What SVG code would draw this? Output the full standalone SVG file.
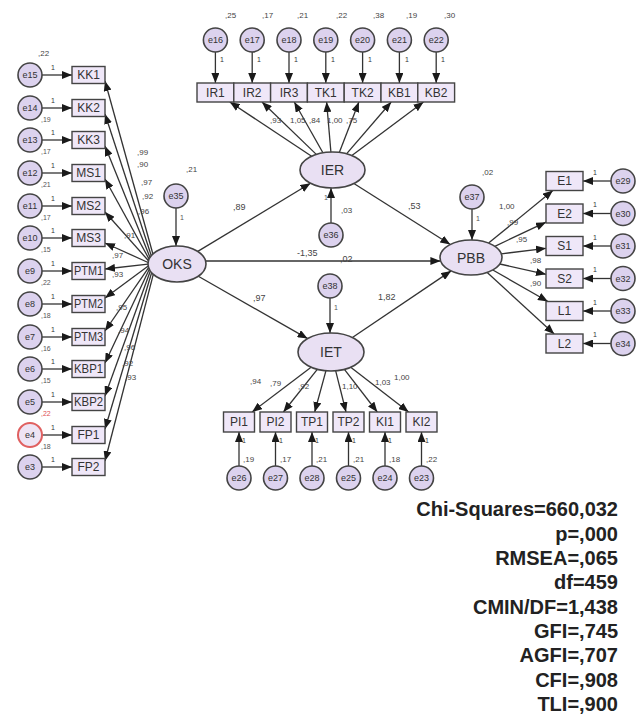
<svg xmlns="http://www.w3.org/2000/svg" width="638" height="716" viewBox="0 0 638 716">
<defs>
<marker id="ah" viewBox="0 0 10 8" refX="10" refY="4" markerWidth="10" markerHeight="8" markerUnits="userSpaceOnUse" orient="auto"><path d="M0,0 L10,4 L0,8 z" fill="#1a1a1a"/></marker>
<style>
.box{fill:#efe7f8;stroke:#444;stroke-width:1.4}
.lat{fill:#e9e0f3;stroke:#444;stroke-width:1.6}
.err{fill:#dcd2ee;stroke:#444;stroke-width:1.6}
.red{fill:#eee4f4;stroke:#e06060;stroke-width:2}
.c line{stroke:#333;stroke-width:1.3;marker-end:url(#ah)}
text{font-family:"Liberation Sans",Arial,sans-serif;fill:#333}
.el{font-size:9px;text-anchor:middle;dominant-baseline:central}
.bl{font-size:12px;text-anchor:middle;dominant-baseline:central}
.ll{font-size:14px;text-anchor:middle;dominant-baseline:central}
.sm{font-size:8px;fill:#444}
.xs{font-size:7px;fill:#555}
.fit{font-size:20px;font-weight:bold;text-anchor:end;fill:#222}
</style>
</defs>
<rect width="638" height="716" fill="#fff"/>

<g class="c" id="connectors">
<!-- left errors to indicators -->
<line x1="42" y1="75" x2="72" y2="75"/>
<line x1="42" y1="108" x2="72" y2="108"/>
<line x1="42" y1="140" x2="72" y2="140"/>
<line x1="42" y1="173" x2="72" y2="173"/>
<line x1="42" y1="206" x2="72" y2="206"/>
<line x1="42" y1="238" x2="72" y2="238"/>
<line x1="42" y1="271" x2="72" y2="271"/>
<line x1="42" y1="304" x2="72" y2="304"/>
<line x1="42" y1="337" x2="72" y2="337"/>
<line x1="42" y1="369" x2="72" y2="369"/>
<line x1="42" y1="402" x2="72" y2="402"/>
<line x1="42" y1="435" x2="72" y2="435"/>
<line x1="42" y1="467" x2="72" y2="467"/>
<!-- OKS to left indicators -->
<line x1="152.9" y1="254" x2="105" y2="81"/>
<line x1="151.3" y1="255.7" x2="105" y2="114"/>
<line x1="150" y1="257.4" x2="105" y2="146"/>
<line x1="149.1" y1="259.1" x2="105" y2="179"/>
<line x1="148.5" y1="260.8" x2="105" y2="212"/>
<line x1="148.1" y1="262.5" x2="105" y2="243"/>
<line x1="148" y1="264.2" x2="105" y2="269"/>
<line x1="148.2" y1="265.9" x2="105" y2="298"/>
<line x1="148.6" y1="267.6" x2="105" y2="331"/>
<line x1="149.3" y1="269.3" x2="105" y2="363"/>
<line x1="150.3" y1="271" x2="105" y2="396"/>
<line x1="151.6" y1="272.7" x2="105" y2="429"/>
<line x1="153.3" y1="274.4" x2="105" y2="461"/>
<!-- top errors to indicators -->
<line x1="215.4" y1="52" x2="215.4" y2="83"/>
<line x1="252.2" y1="52" x2="252.2" y2="83"/>
<line x1="289" y1="52" x2="289" y2="83"/>
<line x1="325.8" y1="52" x2="325.8" y2="83"/>
<line x1="362.6" y1="52" x2="362.6" y2="83"/>
<line x1="399.4" y1="52" x2="399.4" y2="83"/>
<line x1="436.2" y1="52" x2="436.2" y2="83"/>
<!-- IER to top indicators -->
<line x1="311.6" y1="156.2" x2="229.8" y2="102"/>
<line x1="316.3" y1="154.4" x2="262" y2="102"/>
<line x1="322.9" y1="152.8" x2="294.3" y2="102"/>
<line x1="330.9" y1="152" x2="326.6" y2="102"/>
<line x1="339.3" y1="152.4" x2="358.9" y2="102"/>
<line x1="346.5" y1="153.8" x2="391.2" y2="102"/>
<line x1="351.9" y1="155.5" x2="423.5" y2="102"/>
<!-- IET to bottom indicators -->
<line x1="311.1" y1="367.2" x2="252.1" y2="412"/>
<line x1="317.3" y1="369.3" x2="283.4" y2="412"/>
<line x1="325.9" y1="370.8" x2="314.7" y2="412"/>
<line x1="335.7" y1="370.8" x2="346" y2="412"/>
<line x1="344.4" y1="369.4" x2="377.3" y2="412"/>
<line x1="350.7" y1="367.2" x2="408.6" y2="412"/>
<!-- bottom errors to indicators -->
<line x1="239" y1="466" x2="239" y2="432"/>
<line x1="275.5" y1="466" x2="275.5" y2="432"/>
<line x1="312" y1="466" x2="312" y2="432"/>
<line x1="348.5" y1="466" x2="348.5" y2="432"/>
<line x1="385" y1="466" x2="385" y2="432"/>
<line x1="421.5" y1="466" x2="421.5" y2="432"/>
<!-- PBB to right indicators -->
<line x1="488.6" y1="243.1" x2="552.9" y2="190.5"/>
<line x1="494.8" y1="246.3" x2="546" y2="222.2"/>
<line x1="501.3" y1="253.8" x2="546" y2="248.3"/>
<line x1="499.8" y1="264" x2="546" y2="274.3"/>
<line x1="492.8" y1="270" x2="547.9" y2="301.5"/>
<line x1="487.2" y1="272.4" x2="554.2" y2="334"/>
<!-- right errors to indicators -->
<line x1="611" y1="181" x2="583" y2="181"/>
<line x1="611" y1="213.5" x2="583" y2="213.5"/>
<line x1="611" y1="246" x2="583" y2="246"/>
<line x1="611" y1="278.5" x2="583" y2="278.5"/>
<line x1="611" y1="311" x2="583" y2="311"/>
<line x1="611" y1="343.5" x2="583" y2="343.5"/>
<!-- structural paths -->
<line x1="197.8" y1="251.4" x2="310.5" y2="183.3"/>
<line x1="206" y1="261" x2="440.4" y2="261"/>
<line x1="198.3" y1="276.2" x2="307.6" y2="338.6"/>
<line x1="353.9" y1="183.5" x2="450.3" y2="244.5"/>
<line x1="352.4" y1="337.5" x2="451.1" y2="270.9"/>
<!-- disturbances -->
<line x1="176" y1="208" x2="176" y2="246"/>
<line x1="472" y1="209" x2="472" y2="240"/>
<line x1="331" y1="223" x2="331" y2="188"/>
<line x1="330" y1="298" x2="330" y2="333"/>
</g>

<!-- left error nodes -->
<g id="e15"><circle class="err" cx="30" cy="75" r="12"/><text class="el" x="30" y="75">e15</text></g>
<g id="e14"><circle class="err" cx="30" cy="108" r="12"/><text class="el" x="30" y="108">e14</text></g>
<g id="e13"><circle class="err" cx="30" cy="140" r="12"/><text class="el" x="30" y="140">e13</text></g>
<g id="e12"><circle class="err" cx="30" cy="173" r="12"/><text class="el" x="30" y="173">e12</text></g>
<g id="e11"><circle class="err" cx="30" cy="206" r="12"/><text class="el" x="30" y="206">e11</text></g>
<g id="e10"><circle class="err" cx="30" cy="238" r="12"/><text class="el" x="30" y="238">e10</text></g>
<g id="e9"><circle class="err" cx="30" cy="271" r="12"/><text class="el" x="30" y="271">e9</text></g>
<g id="e8"><circle class="err" cx="30" cy="304" r="12"/><text class="el" x="30" y="304">e8</text></g>
<g id="e7"><circle class="err" cx="30" cy="337" r="12"/><text class="el" x="30" y="337">e7</text></g>
<g id="e6"><circle class="err" cx="30" cy="369" r="12"/><text class="el" x="30" y="369">e6</text></g>
<g id="e5"><circle class="err" cx="30" cy="402" r="12"/><text class="el" x="30" y="402">e5</text></g>
<g id="e4"><circle class="red" cx="30" cy="435" r="12"/><text class="el" x="30" y="435">e4</text></g>
<g id="e3"><circle class="err" cx="30" cy="467" r="12"/><text class="el" x="30" y="467">e3</text></g>

<!-- left indicators -->
<g id="KK1"><rect class="box" x="72" y="66.5" width="33" height="17"/><text class="bl" x="88.5" y="75">KK1</text></g>
<g id="KK2"><rect class="box" x="72" y="99.5" width="33" height="17"/><text class="bl" x="88.5" y="108">KK2</text></g>
<g id="KK3"><rect class="box" x="72" y="131.5" width="33" height="17"/><text class="bl" x="88.5" y="140">KK3</text></g>
<g id="MS1"><rect class="box" x="72" y="164.5" width="33" height="17"/><text class="bl" x="88.5" y="173">MS1</text></g>
<g id="MS2"><rect class="box" x="72" y="197.5" width="33" height="17"/><text class="bl" x="88.5" y="206">MS2</text></g>
<g id="MS3"><rect class="box" x="72" y="229.5" width="33" height="17"/><text class="bl" x="88.5" y="238">MS3</text></g>
<g id="PTM1"><rect class="box" x="72" y="262.5" width="33" height="17"/><text class="bl" x="88.5" y="271" textLength="29" lengthAdjust="spacingAndGlyphs">PTM1</text></g>
<g id="PTM2"><rect class="box" x="72" y="295.5" width="33" height="17"/><text class="bl" x="88.5" y="304" textLength="29" lengthAdjust="spacingAndGlyphs">PTM2</text></g>
<g id="PTM3"><rect class="box" x="72" y="328.5" width="33" height="17"/><text class="bl" x="88.5" y="337" textLength="29" lengthAdjust="spacingAndGlyphs">PTM3</text></g>
<g id="KBP1"><rect class="box" x="72" y="360.5" width="33" height="17"/><text class="bl" x="88.5" y="369" textLength="29" lengthAdjust="spacingAndGlyphs">KBP1</text></g>
<g id="KBP2"><rect class="box" x="72" y="393.5" width="33" height="17"/><text class="bl" x="88.5" y="402" textLength="29" lengthAdjust="spacingAndGlyphs">KBP2</text></g>
<g id="FP1"><rect class="box" x="72" y="426.5" width="33" height="17"/><text class="bl" x="88.5" y="435">FP1</text></g>
<g id="FP2"><rect class="box" x="72" y="458.5" width="33" height="17"/><text class="bl" x="88.5" y="467">FP2</text></g>

<!-- top errors -->
<g id="e16"><circle class="err" cx="215.4" cy="40" r="12"/><text class="el" x="215.4" y="40">e16</text></g>
<g id="e17"><circle class="err" cx="252.2" cy="40" r="12"/><text class="el" x="252.2" y="40">e17</text></g>
<g id="e18"><circle class="err" cx="289" cy="40" r="12"/><text class="el" x="289" y="40">e18</text></g>
<g id="e19"><circle class="err" cx="325.8" cy="40" r="12"/><text class="el" x="325.8" y="40">e19</text></g>
<g id="e20"><circle class="err" cx="362.6" cy="40" r="12"/><text class="el" x="362.6" y="40">e20</text></g>
<g id="e21"><circle class="err" cx="399.4" cy="40" r="12"/><text class="el" x="399.4" y="40">e21</text></g>
<g id="e22"><circle class="err" cx="436.2" cy="40" r="12"/><text class="el" x="436.2" y="40">e22</text></g>

<!-- top indicators -->
<g id="IR1"><rect class="box" x="197" y="83" width="36.8" height="19"/><text class="bl" x="215.4" y="92.5">IR1</text></g>
<g id="IR2"><rect class="box" x="233.8" y="83" width="36.8" height="19"/><text class="bl" x="252.2" y="92.5">IR2</text></g>
<g id="IR3"><rect class="box" x="270.6" y="83" width="36.8" height="19"/><text class="bl" x="289" y="92.5">IR3</text></g>
<g id="TK1"><rect class="box" x="307.4" y="83" width="36.8" height="19"/><text class="bl" x="325.8" y="92.5">TK1</text></g>
<g id="TK2"><rect class="box" x="344.2" y="83" width="36.8" height="19"/><text class="bl" x="362.6" y="92.5">TK2</text></g>
<g id="KB1"><rect class="box" x="381" y="83" width="36.8" height="19"/><text class="bl" x="399.4" y="92.5">KB1</text></g>
<g id="KB2"><rect class="box" x="417.8" y="83" width="36.8" height="19"/><text class="bl" x="436.2" y="92.5">KB2</text></g>

<!-- bottom indicators -->
<g id="PI1"><rect class="box" x="223.5" y="412" width="31" height="20"/><text class="bl" x="239" y="422">PI1</text></g>
<g id="PI2"><rect class="box" x="260" y="412" width="31" height="20"/><text class="bl" x="275.5" y="422">PI2</text></g>
<g id="TP1"><rect class="box" x="296.5" y="412" width="31" height="20"/><text class="bl" x="312" y="422">TP1</text></g>
<g id="TP2"><rect class="box" x="333" y="412" width="31" height="20"/><text class="bl" x="348.5" y="422">TP2</text></g>
<g id="KI1"><rect class="box" x="369.5" y="412" width="31" height="20"/><text class="bl" x="385" y="422">KI1</text></g>
<g id="KI2"><rect class="box" x="406" y="412" width="31" height="20"/><text class="bl" x="421.5" y="422">KI2</text></g>

<!-- bottom errors -->
<g id="e26"><circle class="err" cx="239" cy="478" r="12"/><text class="el" x="239" y="478">e26</text></g>
<g id="e27"><circle class="err" cx="275.5" cy="478" r="12"/><text class="el" x="275.5" y="478">e27</text></g>
<g id="e28"><circle class="err" cx="312" cy="478" r="12"/><text class="el" x="312" y="478">e28</text></g>
<g id="e25"><circle class="err" cx="348.5" cy="478" r="12"/><text class="el" x="348.5" y="478">e25</text></g>
<g id="e24"><circle class="err" cx="385" cy="478" r="12"/><text class="el" x="385" y="478">e24</text></g>
<g id="e23"><circle class="err" cx="421.5" cy="478" r="12"/><text class="el" x="421.5" y="478">e23</text></g>

<!-- right indicators -->
<g id="E1"><rect class="box" x="546" y="171.5" width="37" height="19"/><text class="bl" x="564.5" y="181">E1</text></g>
<g id="E2"><rect class="box" x="546" y="204" width="37" height="19"/><text class="bl" x="564.5" y="213.5">E2</text></g>
<g id="S1"><rect class="box" x="546" y="236.5" width="37" height="19"/><text class="bl" x="564.5" y="246">S1</text></g>
<g id="S2"><rect class="box" x="546" y="269" width="37" height="19"/><text class="bl" x="564.5" y="278.5">S2</text></g>
<g id="L1"><rect class="box" x="546" y="301.5" width="37" height="19"/><text class="bl" x="564.5" y="311">L1</text></g>
<g id="L2"><rect class="box" x="546" y="334" width="37" height="19"/><text class="bl" x="564.5" y="343.5">L2</text></g>

<!-- right errors -->
<g id="e29"><circle class="err" cx="623" cy="181" r="12"/><text class="el" x="623" y="181">e29</text></g>
<g id="e30"><circle class="err" cx="623" cy="213.5" r="12"/><text class="el" x="623" y="213.5">e30</text></g>
<g id="e31"><circle class="err" cx="623" cy="246" r="12"/><text class="el" x="623" y="246">e31</text></g>
<g id="e32"><circle class="err" cx="623" cy="278.5" r="12"/><text class="el" x="623" y="278.5">e32</text></g>
<g id="e33"><circle class="err" cx="623" cy="311" r="12"/><text class="el" x="623" y="311">e33</text></g>
<g id="e34"><circle class="err" cx="623" cy="343.5" r="12"/><text class="el" x="623" y="343.5">e34</text></g>

<!-- latent variables -->
<g id="OKS"><ellipse class="lat" cx="177" cy="264" rx="29" ry="18"/><text class="ll" x="177" y="264">OKS</text></g>
<g id="IER"><ellipse class="lat" cx="332.5" cy="170" rx="32.5" ry="18"/><text class="ll" x="332.5" y="170">IER</text></g>
<g id="IET"><ellipse class="lat" cx="331" cy="352" rx="33" ry="19"/><text class="ll" x="331" y="352">IET</text></g>
<g id="PBB"><ellipse class="lat" cx="471" cy="257.5" rx="31" ry="17.5"/><text class="ll" x="471" y="257.5">PBB</text></g>

<!-- disturbances -->
<g id="e35"><circle class="err" cx="176" cy="196" r="12"/><text class="el" x="176" y="196">e35</text></g>
<g id="e37"><circle class="err" cx="472" cy="197" r="12"/><text class="el" x="472" y="197">e37</text></g>
<g id="e36"><circle class="err" cx="331" cy="235" r="12"/><text class="el" x="331" y="235">e36</text></g>
<g id="e38"><circle class="err" cx="330" cy="286" r="12"/><text class="el" x="330" y="286">e38</text></g>

<!-- estimates -->
<g id="estimates">
<text class="sm" x="38" y="56">,22</text>
<text class="xs" x="41" y="122">,19</text>
<text class="xs" x="41" y="154">,17</text>
<text class="xs" x="41" y="187">,21</text>
<text class="xs" x="41" y="220">,17</text>
<text class="xs" x="41" y="252">,15</text>
<text class="xs" x="41" y="285">,22</text>
<text class="xs" x="41" y="318">,18</text>
<text class="xs" x="41" y="351">,16</text>
<text class="xs" x="41" y="383">,15</text>
<text class="xs" x="41" y="416" style="fill:#e05050">,22</text>
<text class="xs" x="41" y="449">,18</text>
<g class="xs">
<text x="51" y="70">1</text><text x="51" y="103">1</text><text x="51" y="135">1</text><text x="51" y="168">1</text><text x="51" y="201">1</text><text x="51" y="233">1</text><text x="51" y="266">1</text><text x="51" y="299">1</text><text x="51" y="332">1</text><text x="51" y="364">1</text><text x="51" y="397">1</text><text x="51" y="430">1</text><text x="51" y="462">1</text>
</g>
<text class="sm" x="137" y="155">,99</text>
<text class="sm" x="137" y="167">,90</text>
<text class="sm" x="141" y="185">,97</text>
<text class="sm" x="142" y="199">,92</text>
<text class="sm" x="138" y="214">,96</text>
<text class="sm" x="124" y="238">,91</text>
<text class="sm" x="112" y="258">,97</text>
<text class="sm" x="112" y="277">,93</text>
<text class="sm" x="116" y="310">,95</text>
<text class="sm" x="118" y="333">,94</text>
<text class="sm" x="124" y="350">,96</text>
<text class="sm" x="122" y="366">,92</text>
<text class="sm" x="125" y="380">,93</text>

<text class="sm" x="225" y="18">,25</text>
<text class="sm" x="262" y="18">,17</text>
<text class="sm" x="297" y="18">,21</text>
<text class="sm" x="336" y="18">,22</text>
<text class="sm" x="373" y="18">,38</text>
<text class="sm" x="406" y="18">,19</text>
<text class="sm" x="444" y="18">,30</text>
<g class="xs">
<text x="220" y="62">1</text><text x="257" y="62">1</text><text x="294" y="62">1</text><text x="331" y="62">1</text><text x="368" y="62">1</text><text x="405" y="62">1</text><text x="441" y="62">1</text>
</g>
<text class="sm" x="270" y="123">,93</text>
<text class="sm" x="290" y="123">1,05</text>
<text class="sm" x="309" y="123">,84</text>
<text class="sm" x="327" y="123">1,00</text>
<text class="sm" x="346" y="123">,75</text>

<text class="sm" x="250" y="384">,94</text>
<text class="sm" x="270" y="386">,79</text>
<text class="sm" x="298" y="389">,92</text>
<text class="sm" x="342" y="389">1,10</text>
<text class="sm" x="375" y="385">1,03</text>
<text class="sm" x="394" y="380">1,00</text>
<g class="xs">
<text x="242" y="443">1</text><text x="279" y="443">1</text><text x="315" y="443">1</text><text x="352" y="443">1</text><text x="388" y="443">1</text><text x="425" y="443">1</text>
</g>
<text class="sm" x="243" y="462">,19</text>
<text class="sm" x="280" y="462">,17</text>
<text class="sm" x="316" y="462">,21</text>
<text class="sm" x="353" y="462">,21</text>
<text class="sm" x="389" y="462">,18</text>
<text class="sm" x="426" y="462">,22</text>

<text class="sm" x="499" y="209">1,00</text>
<text class="sm" x="507" y="225">,99</text>
<text class="sm" x="516" y="242">,95</text>
<text class="sm" x="530" y="263">,98</text>
<text class="sm" x="530" y="286">,90</text>
<g class="xs">
<text x="593" y="175">1</text><text x="593" y="207">1</text><text x="593" y="240">1</text><text x="593" y="272">1</text><text x="593" y="305">1</text><text x="593" y="337">1</text>
</g>

<text class="sm" x="186" y="172">,21</text>
<text class="xs" x="180" y="220">1</text>
<text class="sm" x="482" y="175">,02</text>
<text class="xs" x="476" y="221">1</text>
<text class="sm" x="341" y="213">,03</text>
<text class="xs" x="324" y="200">1</text>
<text class="xs" x="334" y="310">1</text>

<text class="sm" x="233" y="210" style="font-size:9px">,89</text>
<text class="sm" x="408" y="209" style="font-size:9px">,53</text>
<text class="sm" x="297" y="256" style="font-size:9px">-1,35</text>
<text class="sm" x="340" y="262" style="font-size:9px">,02</text>
<text class="sm" x="253" y="301" style="font-size:9px">,97</text>
<text class="sm" x="378" y="300" style="font-size:9px">1,82</text>
</g>

<!-- fit indices -->
<g id="fit">
<text class="fit" x="618" y="516">Chi-Squares=660,032</text>
<text class="fit" x="618" y="541">p=,000</text>
<text class="fit" x="618" y="565">RMSEA=,065</text>
<text class="fit" x="618" y="589">df=459</text>
<text class="fit" x="618" y="614">CMIN/DF=1,438</text>
<text class="fit" x="618" y="638">GFI=,745</text>
<text class="fit" x="618" y="662">AGFI=,707</text>
<text class="fit" x="618" y="687">CFI=,908</text>
<text class="fit" x="618" y="711">TLI=,900</text>
</g>
</svg>
